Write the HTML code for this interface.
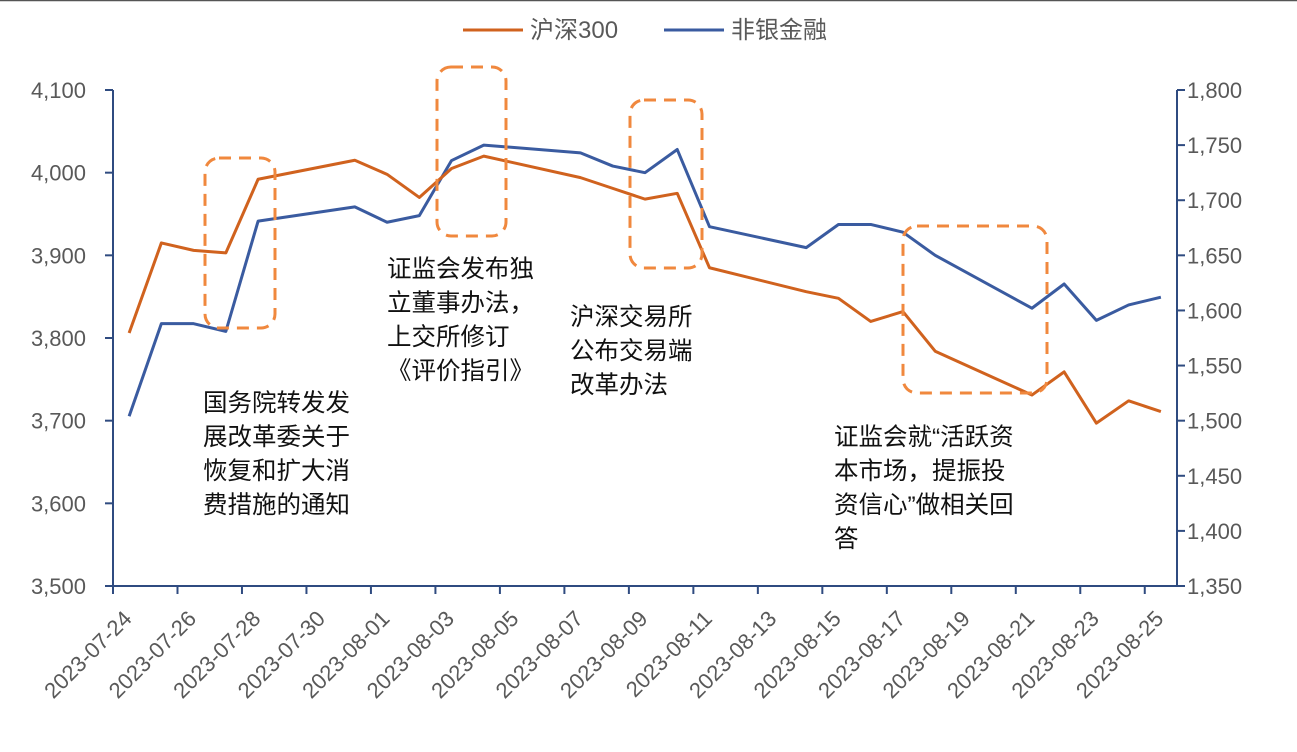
<!DOCTYPE html>
<html><head><meta charset="utf-8"><style>
body{margin:0;background:#fff;}
svg text{font-family:"Liberation Sans","Noto Sans CJK SC",sans-serif;}
</style></head><body>
<svg width="1297" height="747" xmlns="http://www.w3.org/2000/svg">
<rect x="0" y="0" width="1297" height="747" fill="#fff"/>
<line x1="0" y1="0.5" x2="1297" y2="0.5" stroke="#555" stroke-width="1.5"/>
<g id="root"></g>
</svg>
<script>
const dayIndex=[0,1,2,3,4,7,8,9,10,11,14,15,16,17,18,21,22,23,24,25,28,29,30,31,32];
const hs300=[3806,3915,3906,3903,3992,4015,3998,3970,4005,4020,3994,3981,3968,3975,3885,3856,3848,3820,3832,3784,3731,3759,3697,3724,3711];
const nonbank=[1504,1588,1588,1581,1681,1694,1680,1686,1736,1750,1743,1731,1725,1746,1676,1657,1678,1678,1671,1650,1602,1624,1591,1605,1612];
const leftTicks=[3500,3600,3700,3800,3900,4000,4100];
const rightTicks=[1350,1400,1450,1500,1550,1600,1650,1700,1750,1800];
const xLabels=["2023-07-24","2023-07-26","2023-07-28","2023-07-30","2023-08-01","2023-08-03","2023-08-05","2023-08-07","2023-08-09","2023-08-11","2023-08-13","2023-08-15","2023-08-17","2023-08-19","2023-08-21","2023-08-23","2023-08-25"];
const NS="http://www.w3.org/2000/svg";
const root=document.getElementById('root');
const X0=113,X1=1177,Y0=586,Y1=90,ND=33;
const dw=(X1-X0)/ND;
const xc=i=>X0+dw*(i+0.5);
const xt=i=>X0+dw*i;
const yl=v=>Y0-(v-3500)/(4100-3500)*(Y0-Y1);
const yr=v=>Y0-(v-1350)/(1800-1350)*(Y0-Y1);
function mk(t,a,txt){const e=document.createElementNS(NS,t);for(const k in a)e.setAttribute(k,a[k]);if(txt!==undefined)e.textContent=txt;root.appendChild(e);return e;}
const axC="#2f4b80",tc="#595959";
let e=mk('line',{x1:X0,y1:Y1,x2:X0,y2:Y0,stroke:axC,'stroke-width':2});

e=mk('line',{x1:X1,y1:Y1,x2:X1,y2:Y0,stroke:axC,'stroke-width':2});

e=mk('line',{x1:X0-8,y1:Y0,x2:X1+8,y2:Y0,stroke:axC,'stroke-width':2});

leftTicks.forEach(v=>{const y=yl(v);
 mk('line',{x1:X0-8,y1:y,x2:X0,y2:y,stroke:axC,'stroke-width':2});
 const t=mk('text',{x:X0-27,y:y+8,'text-anchor':'end','font-size':22,fill:tc},v.toLocaleString('en-US'));
 });
rightTicks.forEach(v=>{const y=yr(v);
 mk('line',{x1:X1,y1:y,x2:X1+8,y2:y,stroke:axC,'stroke-width':2});
 const t=mk('text',{x:X1+10,y:y+8,'text-anchor':'start','font-size':22,fill:tc},v.toLocaleString('en-US'));
 });
xLabels.forEach((s,k)=>{const x=xt(k*2);
 mk('line',{x1:x,y1:Y0,x2:x,y2:Y0+8,stroke:axC,'stroke-width':2});
 const t=mk('text',{x:x+20,y:Y0+34,'text-anchor':'end','font-size':22,fill:tc,transform:`rotate(-45 ${x+20} ${Y0+34})`},s);
 });
let p=mk('polyline',{points:nonbank.map((v,i)=>xc(dayIndex[i])+','+yr(v)).join(' '),fill:'none',stroke:'#3a5ba0','stroke-width':3,'stroke-linejoin':'round'});

p=mk('polyline',{points:hs300.map((v,i)=>xc(dayIndex[i])+','+yl(v)).join(' '),fill:'none',stroke:'#d0621e','stroke-width':3,'stroke-linejoin':'round'});

[[205,158,70,170],[437,67,69,169],[630,100,72,168],[903,226,144,167]].forEach(b=>{
 const r=mk('rect',{x:b[0],y:b[1],width:b[2],height:b[3],rx:14,fill:'none',stroke:'#f0883e','stroke-width':3,'stroke-dasharray':'12 8'});
 });
const notes=[[203,411,["国务院转发发","展改革委关于","恢复和扩大消","费措施的通知"]],[387,277,["证监会发布独","立董事办法，","上交所修订","《评价指引》"]],[570,325,["沪深交易所","公布交易端","改革办法"]],[834,445,["证监会就“活跃资","本市场，提振投","资信心”做相关回","答"]]];
notes.forEach(n=>n[2].forEach((s,i)=>{const t=mk('text',{x:n[0],y:n[1]+i*34,'font-size':24.5,fill:'#111'},s);
 }));
mk('line',{x1:463,y1:30,x2:523,y2:30,stroke:'#d0621e','stroke-width':3});
e=mk('text',{x:530,y:38,'font-size':24,fill:tc},'沪深300');
mk('line',{x1:664,y1:30,x2:724,y2:30,stroke:'#3a5ba0','stroke-width':3});
e=mk('text',{x:731,y:38,'font-size':24,fill:tc},'非银金融');
</script>
</body></html>
